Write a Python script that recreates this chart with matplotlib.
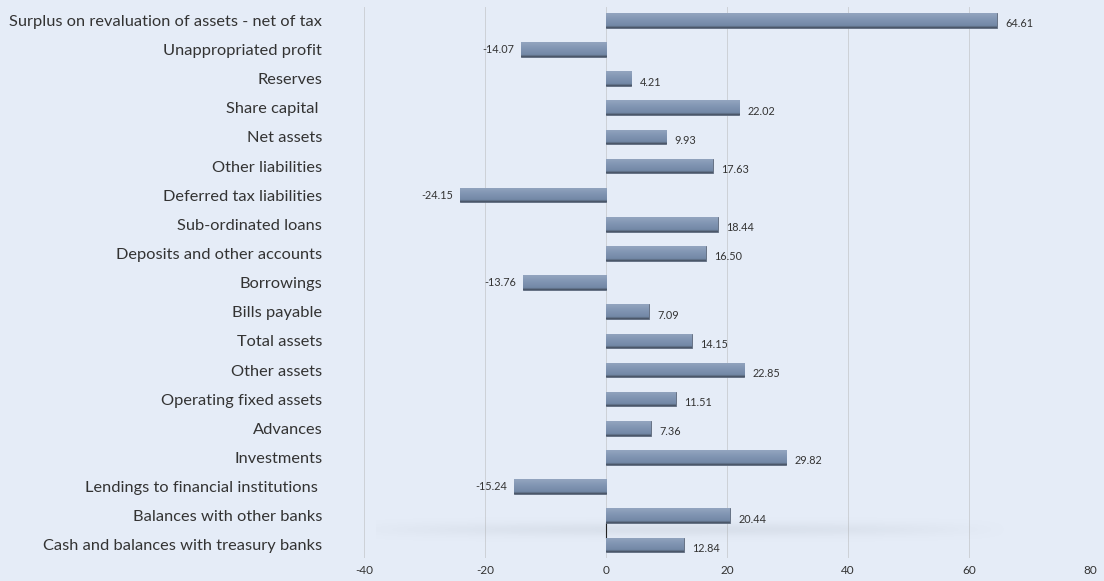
import numpy as np
import matplotlib
matplotlib.use("Agg")
import matplotlib.pyplot as plt
from matplotlib.colors import LinearSegmentedColormap, to_rgb

categories = [
    "Surplus on revaluation of assets - net of tax",
    "Unappropriated profit",
    "Reserves",
    "Share capital ",
    "Net assets",
    "Other liabilities",
    "Deferred tax liabilities",
    "Sub-ordinated loans",
    "Deposits and other accounts",
    "Borrowings",
    "Bills payable",
    "Total assets",
    "Other assets",
    "Operating fixed assets",
    "Advances",
    "Investments",
    "Lendings to financial institutions ",
    "Balances with other banks",
    "Cash and balances with treasury banks",
]
values = [64.61, -14.07, 4.21, 22.02, 9.93, 17.63, -24.15, 18.44, 16.50, -13.76,
          7.09, 14.15, 22.85, 11.51, 7.36, 29.82, -15.24, 20.44, 12.84]
x_ticks = [-40, -20, 0, 20, 40, 60, 80]

BG = "#e5ecf7"
TEXT = "#333333"
FONT = "Lato"

fig = plt.figure(figsize=(11.04, 5.81), dpi=100, facecolor=BG)
ax = fig.add_axes([0.3297, 0.0396, 0.6576, 0.948], facecolor=BG)

y = np.arange(len(categories))
bar_h = 0.5
bars = ax.barh(y, values, height=bar_h, color="#8195b3", edgecolor="#5a6678",
               linewidth=0.6, zorder=3)

# vertical shading inside each bar: lit top, dark lower rim
shade = LinearSegmentedColormap.from_list(
    "barshade", [(0.0, "#434c5c"), (0.15, "#7388a6"), (0.6, "#8296b3"),
                 (1.0, "#93a5bf")])
grad = np.linspace(0, 1, 64).reshape(-1, 1)
for rect in bars:
    x0, yb = rect.get_x(), rect.get_y()
    w, h = rect.get_width(), rect.get_height()
    im = ax.imshow(grad, cmap=shade, aspect="auto", zorder=3.5,
                   extent=(x0, x0 + w, yb, yb + h), origin="upper")
    im.set_clip_path(rect)

# soft floor shadow between the last two rows
n = len(categories)
xs = np.linspace(-1, 1, 400)
ys = np.linspace(-1, 1, 60)
X, Y = np.meshgrid(xs, ys)
alpha = np.clip(1 - np.abs(X + 0.1) ** 2, 0, 1) * np.exp(-(Y / 0.5) ** 2) * 0.16
haze = np.zeros((60, 400, 4))
haze[..., :3] = to_rgb("#9aa3ae")
haze[..., 3] = alpha
ax.imshow(haze, aspect="auto", zorder=2, extent=(-38, 72, n - 1.05, n - 1.95),
          interpolation="bilinear")
ax.plot([0, 0], [n - 1.75, n - 1.25], color="#222222", linewidth=0.8, zorder=2.5)

# value labels at bar ends
for yi, v in zip(y, values):
    if v >= 0:
        ax.text(v + 1.4, yi + 0.12, f"{v:.2f}", va="center", ha="left",
                fontsize=7.8, color=TEXT, family=FONT, zorder=5)
    else:
        ax.text(v - 1.1, yi, f"{v:.2f}", va="center", ha="right",
                fontsize=7.8, color=TEXT, family=FONT, zorder=5)

ax.set_xlim(-40, 80)
ax.set_ylim(n - 0.55, -0.45)
ax.set_xticks(x_ticks)
ax.set_xticklabels([str(t) for t in x_ticks], fontsize=8.5, color=TEXT,
                   family=FONT)
ax.set_yticks(y)
ax.set_yticklabels(categories, fontsize=11.8, color=TEXT, family=FONT)
ax.tick_params(axis="y", length=0, pad=30)
ax.tick_params(axis="x", length=0, pad=5)

ax.grid(axis="x", color="#cdd1d7", linewidth=0.7, zorder=1)
ax.grid(axis="y", visible=False)
for s in ax.spines.values():
    s.set_visible(False)

fig.savefig("out.png", dpi=100, facecolor=BG)
